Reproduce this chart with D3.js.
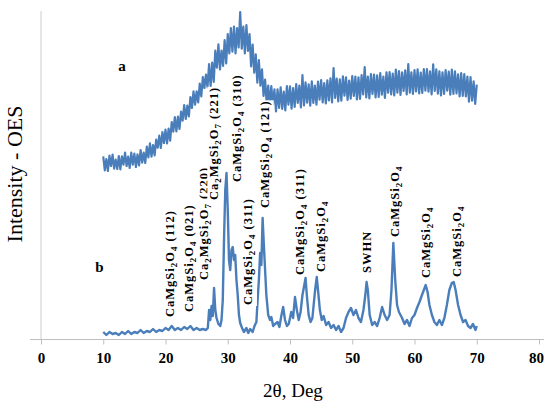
<!DOCTYPE html>
<html>
<head>
<meta charset="UTF-8">
<title>XRD patterns a and b</title>
<script src="https://d3js.org/d3.v7.min.js"></script>
<style>
  body{margin:0;background:#fff;}
  svg{display:block;}
  .tick text{font-family:"Liberation Serif","Times New Roman",serif;font-weight:bold;font-size:15px;fill:#000;}
  .tick line{stroke:#bfbfbf;}
</style>
</head>
<body>
<svg width="544" height="406"></svg>
<script>
var xTicks = [0, 10, 20, 30, 40, 50, 60, 70, 80];

// pattern a : 2theta from 10 to 70, every 0.25 deg (one row = 2 deg)
var aStart = 10, aStep = 0.25;
var aCounts = [
  551,509,543,507, 553,522,556,514,
  541,513,552,512, 551,526,562,522,
  550,516,562,526, 559,519,557,524,
  570,532,562,531, 580,548,590,550,
  585,554,601,577, 613,576,624,591,
  631,590,634,598, 654,625,669,626,
  670,633,685,658, 705,663,703,671,
  729,696,746,706, 746,713,769,731,
  789,756,796,758, 828,761,832,774,
  868,817,887,812, 868,822,900,830,
  918,860,936,865, 940,860,936,878,
  984,874,940,860, 945,867,918,821,
  886,802,857,772, 840,763,812,732,
  781,713,763,702, 762,707,752,686,
  752,696,758,693, 745,689,762,706,
  761,694,756,699, 768,711,763,698,
  795,704,773,712, 767,703,776,711,
  763,706,775,721, 780,713,771,710,
  779,719,785,713, 816,726,784,716,
  782,718,791,733, 788,720,778,724,
  792,732,790,722, 788,723,795,737,
  819,728,790,725, 798,738,796,728,
  794,729,801,736, 790,726,803,742,
  804,737,799,734, 811,742,807,735,
  803,747,809,737, 828,742,803,738,
  810,746,812,740, 802,741,813,748,
  813,745,806,737, 827,747,812,739,
  806,734,803,738, 810,748,805,736,
  811,738,806,740, 797,731,801,732,
  798,731,790,715, 789,718,776,708,
  766
];

// pattern b : 2theta and counts
var bTheta = [
  10,10.5,11,11.5,12,12.5,13,13.5,14,14.5,15,15.5,16,16.5,17,17.5,18,18.5,19,19.5,
  20,20.5,21,21.5,22,22.5,23,23.5,24,24.5,25,25.5,26,26.5,
  26.8,27,27.2,27.4,27.6,27.8,28,28.2,28.5,28.8,29,29.2,29.4,29.6,29.8,30,
  30.2,30.4,30.6,30.8,31,31.2,31.4,31.6,31.8,32,32.3,32.6,33,33.3,33.6,34,
  34.3,34.6,34.8,35,35.2,35.4,35.6,35.8,36,36.2,36.5,36.8,37,37.3,37.6,38,
  38.3,38.6,38.9,39.2,39.5,39.8,40.2,40.5,40.8,41.1,41.4,41.7,42,42.3,42.5,42.7,
  43,43.3,43.6,44,44.3,44.5,44.8,45.1,45.4,45.8,46.2,46.6,47,47.4,47.8,48.2,
  48.6,49,49.4,49.8,50.2,50.6,51,51.4,51.8,52.1,52.3,52.5,52.8,53.2,53.6,54,
  54.4,54.8,55.2,55.6,56,56.3,56.6,56.9,57.2,57.5,58,58.4,58.8,59.2,59.6,60,
  60.4,60.8,61.2,61.5,61.8,62.1,62.4,62.8,63.2,63.6,64,64.4,64.8,65.2,65.6,66,
  66.3,66.6,67,67.4,67.8,68.2,68.6,69,69.4,69.8,70
];
var bCounts = [
  24,15,24,18,21,15,24,18,27,18,24,21,30,21,27,24,33,24,30,27,
  36,30,42,30,36,30,39,33,42,30,36,30,33,30,
  36,90,60,102,72,156,90,66,48,42,60,120,300,450,501,390,
  240,210,270,279,240,255,180,135,75,51,36,24,36,21,33,24,
  42,54,120,180,261,225,366,285,210,135,75,60,69,42,48,54,
  39,72,99,60,42,48,84,66,129,90,60,84,135,165,186,135,
  75,54,66,144,189,150,90,60,72,45,54,36,45,30,42,24,
  36,66,84,96,75,90,66,54,90,135,174,150,75,45,54,42,
  66,99,75,60,75,150,291,180,105,84,66,48,60,42,66,75,
  96,114,135,150,165,144,105,75,54,45,60,45,66,105,150,171,
  174,150,105,75,54,60,42,36,48,30,42
];

// peak labels: text (_n = subscript), 2theta of label, counts where label starts
var peakNames = [
  "CaMgSi_2O_4 (112)", "CaMgSi_2O_4 (021)", "Ca_2MgSi_2O_7 (220)", "Ca_2MgSi_2O_7 (221)",
  "CaMgSi_2O_4 (310)", "CaMgSi_2O_4 (311)", "CaMgSi_2O_4 (121)", "CaMgSi_2O_4 (311)",
  "CaMgSi_2O_4", "SWHN", "CaMgSi_2O_4", "CaMgSi_2O_4", "CaMgSi_2O_4"
];
var peakTheta = [20.9, 23.9, 26.3, 28.0, 31.6, 33.4, 36.1, 41.8, 45.1, 52.5, 57.0, 62.0, 67.0];
var peakLevel = [69, 84, 180, 420, 474, 105, 396, 195, 204, 201, 309, 186, 189];

var curveNames = ["a", "b"];
var curveTheta = [12.4, 8.7];
var curveLevel = [807, 204];

var serif = '"Liberation Serif","Times New Roman",serif';
var blue = "#4a7ebb";

var svg = d3.select("svg");

var xScale = d3.scaleLinear().domain([0, 80]).range([41, 539]);
var yScale = d3.scaleLinear().domain([0, 1000]).range([340, 6.67]);

// axes lines
svg.append("line")
   .attr("x1", xScale(0)).attr("x2", xScale(0))
   .attr("y1", 11).attr("y2", yScale(0))
   .attr("stroke", "#d6d6d6").attr("stroke-width", 1.2);

svg.append("line")
   .attr("x1", 30).attr("x2", 544)
   .attr("y1", yScale(0) - 0.5).attr("y2", yScale(0) - 0.5)
   .attr("stroke", "#bfbfbf").attr("stroke-width", 1.2);

var xAxis = d3.axisBottom(xScale)
   .tickValues(xTicks)
   .tickSize(5)
   .tickSizeOuter(0)
   .tickPadding(8);

svg.append("g")
   .attr("transform", "translate(0," + (yScale(0) - 0.5) + ")")
   .call(xAxis)
   .call(function(g){ g.select(".domain").remove(); })
   .call(function(g){
      // last label sits against the right edge
      g.selectAll(".tick text").filter(function(d){ return d === 80; }).attr("dx", -3);
   });

// curves
var line = d3.line()
   .x(function(d){ return xScale(d[0]); })
   .y(function(d){ return yScale(d[1]); });

var aData = aCounts.map(function(c, i){ return [aStart + i * aStep, c]; });
var bData = bTheta.map(function(t, i){ return [t, bCounts[i]]; });

svg.append("path")
   .datum(aData)
   .attr("d", line)
   .attr("fill", "none")
   .attr("stroke", blue)
   .attr("stroke-width", 2.2)
   .attr("stroke-linejoin", "round");

svg.append("path")
   .datum(bData)
   .attr("d", line)
   .attr("fill", "none")
   .attr("stroke", blue)
   .attr("stroke-width", 2.4)
   .attr("stroke-linejoin", "round");

// rich text with subscripts
function richText(textSel, str){
  var parts = str.split(/_(\d)/);
  var down = false;
  parts.forEach(function(p, i){
    if(i % 2 === 1){
      textSel.append("tspan").attr("dy", 3).attr("font-size", "9px").text(p);
      down = true;
    } else if(p !== ""){
      textSel.append("tspan").attr("dy", down ? -3 : 0).text(p);
      down = false;
    }
  });
}

// peak labels
var labels = svg.append("g").selectAll("g")
   .data(peakNames)
   .enter()
   .append("g")
   .attr("transform", function(d, i){
      return "translate(" + (xScale(peakTheta[i]) + 3) + "," + yScale(peakLevel[i]) + ") rotate(-90)";
   });

labels.each(function(d){
  var g = d3.select(this);
  var t = g.append("text")
     .attr("font-family", serif)
     .attr("font-weight", "bold")
     .attr("font-size", "12.5px")
     .attr("letter-spacing", "1px")
     .attr("fill", "#000");
  richText(t, d);
  var bb = t.node().getBBox();
  g.insert("rect", "text")
     .attr("x", bb.x - 1).attr("y", bb.y)
     .attr("width", bb.width + 1).attr("height", bb.height)
     .attr("fill", "#fff");
});

// curve names
svg.append("g").selectAll("text")
   .data(curveNames)
   .enter()
   .append("text")
   .attr("x", function(d, i){ return xScale(curveTheta[i]); })
   .attr("y", function(d, i){ return yScale(curveLevel[i]); })
   .attr("font-family", serif)
   .attr("font-weight", "bold")
   .attr("font-size", "15px")
   .text(function(d){ return d; });

// axis titles
svg.append("text")
   .attr("x", 293)
   .attr("y", 397)
   .attr("text-anchor", "middle")
   .attr("font-family", serif)
   .attr("font-size", "19px")
   .text("2θ, Deg");

svg.append("text")
   .attr("transform", "translate(22,174) rotate(-90)")
   .attr("text-anchor", "middle")
   .attr("font-family", serif)
   .attr("font-size", "22px")
   .text("Intensity - OES");
</script>
</body>
</html>
